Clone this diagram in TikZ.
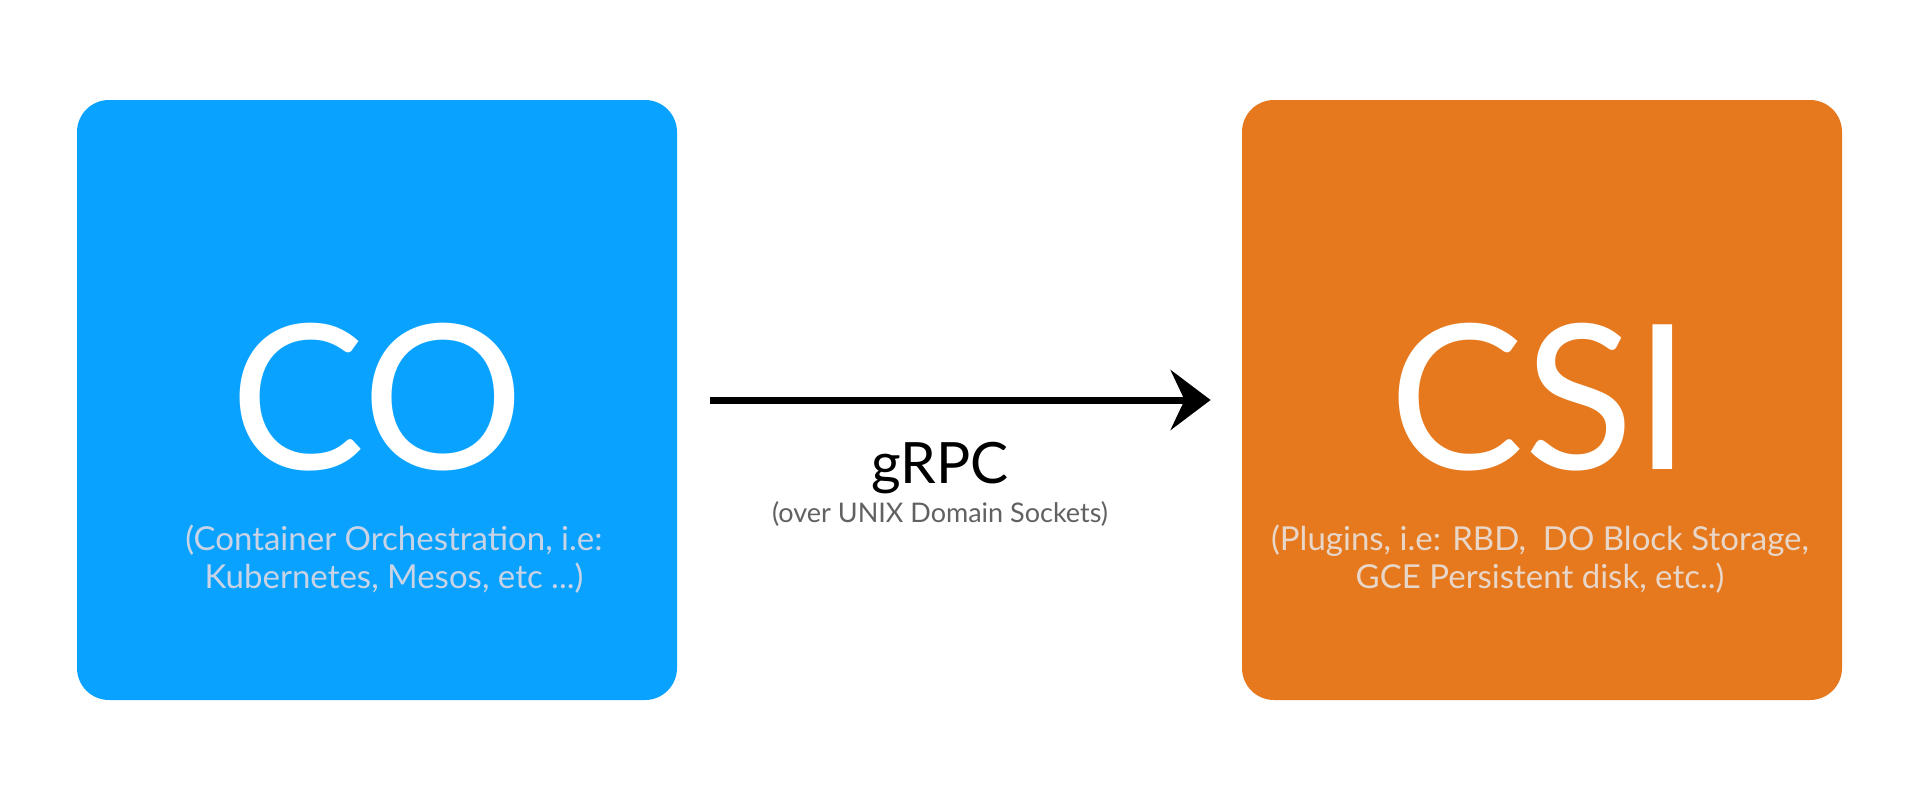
\documentclass[tikz,border=0pt]{standalone}
\usepackage{fontspec}
\setmainfont{Lato}
\usepackage{tikz}
\usetikzlibrary{
  arrows.meta
}
\definecolor{coBlue}{RGB}{10,162,255}
\definecolor{csiOrange}{RGB}{230,121,30}
\definecolor{coNote}{RGB}{200,212,230}
\definecolor{csiNote}{RGB}{232,214,200}
\colorlet{rpcNote}{black!62}
\tikzset{
  box/.style={rounded corners=16pt, minimum width=300pt, minimum height=300pt, inner sep=0pt},
  big name/.style={anchor=base, text=white, font=\fontsize{101}{101}\selectfont},
  note/.style={anchor=base, align=center, font=\fontsize{16.5}{19}\selectfont},
  rpc line/.style={line width=3.5pt, shorten <=16.5pt, shorten >=15.5pt,
    -{Stealth[length=20pt, width=30pt, inset=7pt]}}
}

\begin{document}
\begin{tikzpicture}[x=0.5pt, y=0.5pt]
\useasboundingbox[fill=white] (0,0) rectangle (1920,800);
% the two sides
\node[box, fill=coBlue] (co) at (377,400) {};
\node[box, fill=csiOrange] (csi) at (1542,400) {};
\node[big name] (coName) at (377,331) {CO};
\node[big name] (csiName) at (1540,331) {CSI};
% base of a two-line note is its last line
\node[note, text=coNote] (coNote) at (394,212) {(Container Orchestration, i.e:\\Kubernetes, Mesos, etc ...)};
\node[note, text=csiNote] (csiNote) at (1540,212) {(Plugins, i.e: RBD,~ DO Block Storage,\\GCE Persistent disk, etc..)};
% the link
\draw[rpc line] (co) -- (csi);
\node[anchor=base, font=\fontsize{28.5}{30}\selectfont] (rpc) at (940,317) {gRPC};
\node[anchor=base, text=rpcNote, font=\fontsize{13.5}{15}\selectfont] (rpcNote) at (940,278) {(over UNIX Domain Sockets)};
\end{tikzpicture}
\end{document}
